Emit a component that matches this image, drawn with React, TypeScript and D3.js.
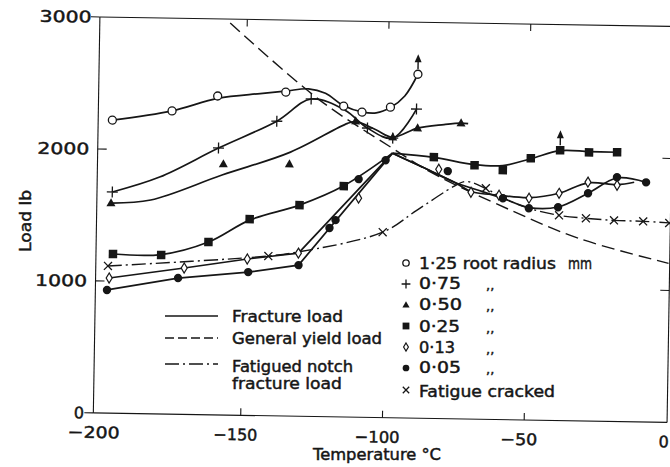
import * as d3 from "d3";

const INK = "#161616";

// temperature (°C), load (lb) — markers and the drawn fitted curves
const r125Marks = [[-197, 2220], [-176, 2297], [-160, 2416], [-136, 2454], [-115.5, 2355], [-109, 2312], [-99, 2353], [-89.5, 2606]];
const r125Line = [[-197, 2220], [-176, 2298], [-160, 2398], [-145, 2440], [-136, 2462], [-128, 2482], [-122, 2450], [-115.5, 2358], [-109, 2314], [-104, 2308], [-99, 2350], [-94, 2440], [-89.5, 2606]];

const r075Marks = [[-196.6, 1676], [-159.4, 2022], [-139, 2233], [-127, 2405], [-107, 2192], [-98, 2119], [-89.8, 2342]];
const r075Line = [[-196.6, 1676], [-180, 1795], [-159.4, 2022], [-139, 2233], [-127, 2405], [-115, 2325], [-107, 2192], [-98, 2119], [-89.8, 2342]];

const r050Marks = [[-197, 1592], [-157.6, 1901], [-134.3, 1909], [-111.2, 2243], [-98, 2126], [-89.3, 2198], [-74, 2241]];
const r050Line = [[-197, 1592], [-183, 1620], [-158, 1818], [-134, 2000], [-114, 2225], [-111, 2240], [-104, 2180], [-98, 2126], [-89.3, 2198], [-80, 2228], [-74, 2241], [-71.5, 2238]];

const r025Marks = [[-196, 1206], [-179, 1205], [-162.4, 1309], [-148, 1488], [-130.5, 1600], [-115, 1749], [-83.4, 1980], [-69, 1924], [-59, 1890], [-49.2, 1984], [-38.9, 2048], [-28.7, 2036], [-18.8, 2040]];
const r025Left = [[-196, 1206], [-179, 1208], [-162.4, 1309], [-148, 1480], [-130.5, 1600], [-115, 1752], [-98, 2005]];
const r025Right = [[-98, 2005], [-83.4, 1978], [-69, 1928], [-59, 1925], [-49.2, 1980], [-38.9, 2045], [-28.7, 2042], [-18.8, 2040]];

const r013Marks = [[-197.2, 1024], [-170.8, 1109], [-148.6, 1185], [-130.6, 1236], [-109.7, 1660], [-81.6, 1889], [-70.1, 1719], [-60.2, 1700], [-49.6, 1681], [-39, 1722], [-28.9, 1810], [-18.6, 1790]];
const r013Left = [[-197.2, 1024], [-170.8, 1109], [-148.6, 1185], [-130.6, 1236], [-98, 2005]];
const r013Right = [[-98, 2005], [-87, 1900], [-76, 1793], [-70, 1725], [-60, 1700], [-49.6, 1685], [-39, 1722], [-28.9, 1805], [-18.6, 1795], [-12.6, 1815]];

const r005Marks = [[-197.9, 933], [-172.9, 1032], [-148.2, 1086], [-130.5, 1145], [-119.8, 1430], [-117.7, 1491], [-109.8, 1804], [-100.4, 1951], [-78.4, 1876], [-58.8, 1677], [-49.6, 1605], [-39.3, 1616], [-28.8, 1726], [-18.7, 1851], [-8.4, 1816]];
const r005Left = [[-197.9, 933], [-172.9, 1032], [-148.2, 1086], [-130.5, 1145], [-98, 2005]];
const r005Right = [[-98, 2005], [-87, 1900], [-76, 1793], [-66, 1725], [-58.8, 1677], [-49.6, 1610], [-39.3, 1618], [-28.8, 1726], [-18.7, 1845], [-8.4, 1816]];

const fatigueMarks = [[-197.7, 1115], [-141.2, 1210], [-101, 1405], [-64.9, 1751], [-38.9, 1555], [-29.4, 1536], [-19.5, 1524], [-9.2, 1520], [0, 1510]];
const fatigueLine = [[-197.7, 1115], [-141.2, 1210], [-130.6, 1245], [-101, 1405], [-89, 1577], [-76, 1763], [-72, 1800], [-65, 1751], [-58.8, 1680], [-49.6, 1605], [-39, 1555], [-29.4, 1536], [-19.5, 1524], [-9.2, 1520], [0, 1512]];

const yieldLine = [[-156, 2970], [-124, 2398], [-98.7, 2051], [-84.4, 1866], [-56, 1588], [-32, 1384], [0, 1205]];

// points that carry an "off the scale" arrow
const arrowPoints = [[-89.5, 2606], [-38.9, 2048]];

const xTicks = [-200, -150, -100, -50, 0];
const xTickLabels = ["−200", "−150", "−100", "−50", "0"];
const yTicks = [0, 1000, 2000, 3000];
const yTickLabels = ["0", "1000", "2000", "3000"];

const radiusLabels = ["1·25 root radius", "0·75", "0·50", "0·25", "0·13", "0·05", "Fatigue cracked"];
const markerKinds = ["circle", "plus", "triangle", "square", "diamond", "dot", "cross"];
const lineLegend = ["Fracture load", "General yield load", "Fatigued notch", "fracture load"];

const DASH = "13,6";
const DASHDOT = "14,4,2,4";

function Marker({ kind, cx, cy, s = 1 }: { kind: string; cx: number; cy: number; s?: number }) {
  if (kind === "circle")
    return <circle cx={cx} cy={cy} r={4 * s} fill="#fff" stroke={INK} strokeWidth={1.3} />;
  if (kind === "plus") {
    const a = 5.5 * s;
    return <path d={`M${cx - a},${cy}H${cx + a}M${cx},${cy - a}V${cy + a}`} stroke={INK} strokeWidth={1.3} fill="none" />;
  }
  if (kind === "triangle") {
    const w = 9 * s, h = 8 * s;
    return <path d={`M${cx},${cy - h * 0.6}L${cx + w / 2},${cy + h * 0.4}L${cx - w / 2},${cy + h * 0.4}Z`} fill={INK} />;
  }
  if (kind === "square") {
    const a = 8.5 * s;
    return <rect x={cx - a / 2} y={cy - a / 2} width={a} height={a} fill={INK} />;
  }
  if (kind === "diamond")
    return <path d={`M${cx},${cy - 5 * s}L${cx + 3 * s},${cy}L${cx},${cy + 5 * s}L${cx - 3 * s},${cy}Z`} fill="#fff" stroke={INK} strokeWidth={1.2} />;
  if (kind === "dot")
    return <circle cx={cx} cy={cy} r={4.2 * s} fill={INK} />;
  const a = 4 * s;
  return <path d={`M${cx - a},${cy - a}L${cx + a},${cy + a}M${cx + a},${cy - a}L${cx - a},${cy + a}`} stroke={INK} strokeWidth={1.3} fill="none" />;
}

export default function App() {
  const x = d3.scaleLinear().domain([-200, 0]).range([99, 666]);
  const y = d3.scaleLinear().domain([0, 3000]).range([413, 17]);

  const smooth = d3.line<number[]>().x(d => x(d[0])).y(d => y(d[1])).curve(d3.curveCatmullRom.alpha(0.5));
  const straight = d3.line<number[]>().x(d => x(d[0])).y(d => y(d[1]));

  const left = x(-202);
  const right = x(0.4);
  const top = y(3000);
  const bottom = y(0);

  const curves = [r125Line, r075Line, r050Line, r025Left, r025Right, r013Right, r005Right];
  const polylines = [r013Left, r005Left];

  const markerSets: [string, number[][]][] = [
    ["circle", r125Marks], ["plus", r075Marks], ["triangle", r050Marks], ["square", r025Marks],
    ["diamond", r013Marks], ["dot", r005Marks], ["cross", fatigueMarks],
  ];

  const legendRowsY = [263, 284, 305, 326, 347, 368, 390];
  const legendBase = [269, 289, 310, 332, 353, 373, 397];
  const legendWidths = [137, 42, 43, 41, 36, 42, 136];

  // scanned type is heavy: thicken glyphs slightly
  const textInk = { stroke: INK, strokeWidth: 0.45 };

  return (
    <svg width={670} height={467} style={{ position: "absolute", left: 0, top: 0, background: "#fff" }}
      fontFamily="DejaVu Sans" fill={INK}>
      <g transform="rotate(0.95 99 413)">
        {/* frame */}
        <g stroke={INK} strokeWidth={1.1} fill="none">
          <line x1={left} y1={top} x2={left} y2={bottom} />
          <line x1={left} y1={bottom} x2={right} y2={bottom} />
          <line x1={left} y1={top} x2={720} y2={top} />
          <line x1={right} y1={top} x2={right} y2={bottom} />
          {yTicks.map(v => (v === 0 || v === 3000)
            ? <line key={v} x1={left - 9} x2={left} y1={y(v)} y2={y(v)} />
            : <line key={v} x1={left} x2={left + 9} y1={y(v)} y2={y(v)} />)}
          {[1000, 2000].map(v => <line key={"r" + v} x1={right - 9} x2={right} y1={y(v)} y2={y(v)} />)}
          {[-150, -100, -50].map(v => (
            <g key={v}>
              <line x1={x(v)} x2={x(v)} y1={top} y2={top + 7} />
              <line x1={x(v)} x2={x(v)} y1={bottom} y2={bottom - 7} />
            </g>
          ))}
        </g>

        {/* tick labels */}
        <g fontSize={16} {...textInk}>
          {yTicks.map((v, i) => (
            <text key={v} x={v === 0 ? 84 : 85} y={y(v)} dy="0.36em" textAnchor="end"
              textLength={v === 0 ? undefined : 52} lengthAdjust="spacingAndGlyphs">{yTickLabels[i]}</text>
          ))}
          {xTicks.map((v, i) => (
            <text key={v} x={v === 0 ? 659 : x(v) - 5} y={438} textAnchor={v === 0 ? "start" : "middle"}
              textLength={[52, 44, 45, 37, 0][i] || undefined} lengthAdjust="spacingAndGlyphs">{xTickLabels[i]}</text>
          ))}
        </g>

        {/* general yield load */}
        <path d={smooth(yieldLine) || ""} fill="none" stroke={INK} strokeWidth={1.4} strokeDasharray={DASH} />
        {/* fatigued notch fracture load */}
        <path d={smooth(fatigueLine) || ""} fill="none" stroke={INK} strokeWidth={1.4} strokeDasharray={DASHDOT} />
        {/* fracture load curves */}
        {curves.map((c, i) => <path key={"c" + i} d={smooth(c) || ""} fill="none" stroke={INK} strokeWidth={1.7} />)}
        {polylines.map((c, i) => <path key={"p" + i} d={straight(c) || ""} fill="none" stroke={INK} strokeWidth={1.7} />)}

        {/* arrows */}
        {arrowPoints.map((p, i) => {
          const cx = x(p[0]), cy = y(p[1]);
          return (
            <g key={"a" + i}>
              <line x1={cx} x2={cx} y1={cy - 5} y2={cy - 13} stroke={INK} strokeWidth={1.4} />
              <path d={`M${cx},${cy - 20}L${cx + 3.5},${cy - 12}L${cx - 3.5},${cy - 12}Z`} fill={INK} />
            </g>
          );
        })}

        {/* markers */}
        {markerSets.map(([kind, pts]) => pts.map((p, j) => (
          <Marker key={kind + j} kind={kind} cx={x(p[0])} cy={y(p[1])} />
        )))}
      </g>

      {/* axis titles */}
      <g {...textInk}>
        <text transform="translate(31,221) rotate(-90)" textAnchor="middle" fontSize={15}
          textLength={62} lengthAdjust="spacingAndGlyphs">Load lb</text>
        <text x={313} y={460} fontSize={15} textLength={128} lengthAdjust="spacingAndGlyphs">Temperature °C</text>
      </g>

      {/* line style legend */}
      <g stroke={INK} strokeWidth={1.4} fill="none">
        <line x1={165} x2={218} y1={316} y2={316} />
        <line x1={165} x2={218} y1={338} y2={338} strokeDasharray="9,4" />
        <line x1={165} x2={218} y1={364} y2={364} strokeDasharray="14,4,2,4" />
      </g>
      <g fontSize={15} {...textInk}>
        <text x={232} y={322} textLength={111} lengthAdjust="spacingAndGlyphs">{lineLegend[0]}</text>
        <text x={232} y={344} textLength={150} lengthAdjust="spacingAndGlyphs">{lineLegend[1]}</text>
        <text x={232} y={372} textLength={121} lengthAdjust="spacingAndGlyphs">{lineLegend[2]}</text>
        <text x={232} y={389} textLength={110} lengthAdjust="spacingAndGlyphs">{lineLegend[3]}</text>
      </g>

      {/* marker legend */}
      <g fontSize={15}>
        {markerKinds.map((k, i) => (
          <g key={k}>
            <Marker kind={k} cx={406} cy={legendRowsY[i]} s={0.8} />
            <text x={419} y={legendBase[i]} textLength={legendWidths[i]} lengthAdjust="spacingAndGlyphs" {...textInk}>{radiusLabels[i]}</text>
            {i > 0 && i < 6 && <text x={486} y={legendBase[i] + 1} fontSize={13} {...textInk}>,,</text>}
          </g>
        ))}
        <text x={568} y={269} textLength={24} lengthAdjust="spacingAndGlyphs" {...textInk}>mm</text>
      </g>
    </svg>
  );
}
